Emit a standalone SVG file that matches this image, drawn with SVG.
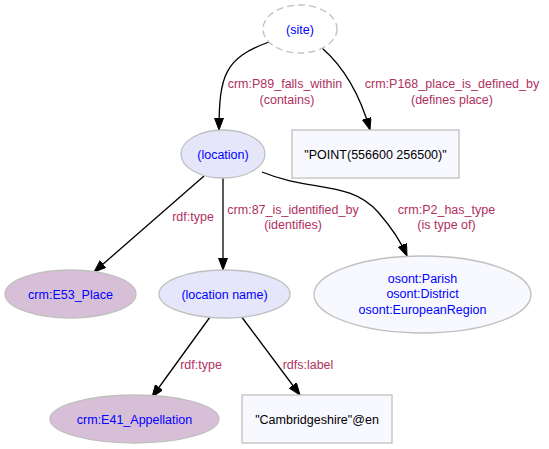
<svg xmlns="http://www.w3.org/2000/svg" width="549" height="449" viewBox="0 0 549 449">
<style>
text{font-family:"Liberation Sans",Arial,sans-serif;font-size:12.5px;text-anchor:middle}
.n{fill:#0000ff}
.lit{fill:#000000}
.lbl{fill:#b03060}
.inst{fill:#e6e6fa;stroke:#c0c0c0;stroke-width:1.3}
.cls{fill:#d8bfd8;stroke:#c0c0c0;stroke-width:1.3}
.vocab{fill:#f8f8ff;stroke:#c0c0c0;stroke-width:1.3}
.box{fill:#f8f8ff;stroke:#c0c0c0;stroke-width:1.3}
.site{fill:#ffffff;stroke:#c0c0c0;stroke-width:1.3;stroke-dasharray:7,4}
.e path{fill:none;stroke:#000000;stroke-width:1.3;marker-end:url(#arr)}
</style>
<defs>
<marker id="arr" markerUnits="userSpaceOnUse" markerWidth="13" markerHeight="10" refX="12" refY="4.5" orient="auto">
<path d="M0,0 L12,4.5 L0,9 z" fill="#000000" stroke="#000000" stroke-width="1"/>
</marker>
</defs>
<rect width="549" height="449" fill="#ffffff"/>
<g id="edges" class="e">
<path d="M269,42 C225,58 219,75 219,130"/>
<path d="M322,48 C345,68 360,95 370,130"/>
<path d="M204,176 L94,272"/>
<path d="M223,178 L223,270"/>
<path d="M262,172 C310,192 350,180 378,212 C392,228 402,244 407,256"/>
<path d="M210,317 L152,397"/>
<path d="M241,316 L300,395"/>
</g>
<g id="edge-labels">
<text class="lbl" x="285" y="88">crm:P89_falls_within</text>
<text class="lbl" x="287" y="104">(contains)</text>
<text class="lbl" x="452" y="88">crm:P168_place_is_defined_by</text>
<text class="lbl" x="452" y="104">(defines place)</text>
<text class="lbl" x="193" y="221">rdf:type</text>
<text class="lbl" x="293" y="213.5">crm:87_is_identified_by</text>
<text class="lbl" x="293" y="228.5">(identifies)</text>
<text class="lbl" x="446.5" y="213.5">crm:P2_has_type</text>
<text class="lbl" x="446.5" y="228.5">(is type of)</text>
<text class="lbl" x="201" y="368.5">rdf:type</text>
<text class="lbl" x="308" y="368.5">rdfs:label</text>
</g>
<g id="site">
<ellipse class="site" cx="300" cy="29" rx="37" ry="24"/>
<text class="n" x="300" y="33.5">(site)</text>
</g>
<g id="location">
<ellipse class="inst" cx="223" cy="154" rx="42" ry="24"/>
<text class="n" x="223" y="158.5">(location)</text>
</g>
<g id="point">
<rect class="box" x="292" y="130" width="167" height="48"/>
<text class="lit" x="375.5" y="159">"POINT(556600 256500)"</text>
</g>
<g id="e53">
<ellipse class="cls" cx="70.5" cy="294" rx="65.5" ry="24"/>
<text class="n" x="70.5" y="298.5">crm:E53_Place</text>
</g>
<g id="locname">
<ellipse class="inst" cx="224.5" cy="294" rx="65.5" ry="24"/>
<text class="n" x="224.5" y="298.5">(location name)</text>
</g>
<g id="osont">
<ellipse class="vocab" cx="422.5" cy="294.5" rx="108.5" ry="38.5"/>
<text class="n" x="422.5" y="282.5">osont:Parish</text>
<text class="n" x="422.5" y="298">osont:District</text>
<text class="n" x="422.5" y="313.5">osont:EuropeanRegion</text>
</g>
<g id="e41">
<ellipse class="cls" cx="134.5" cy="419" rx="84.5" ry="24"/>
<text class="n" x="134.5" y="423.5">crm:E41_Appellation</text>
</g>
<g id="cambs">
<rect class="box" x="242" y="395" width="150" height="48"/>
<text class="lit" x="317" y="423.5">"Cambridgeshire"@en</text>
</g>
</svg>
